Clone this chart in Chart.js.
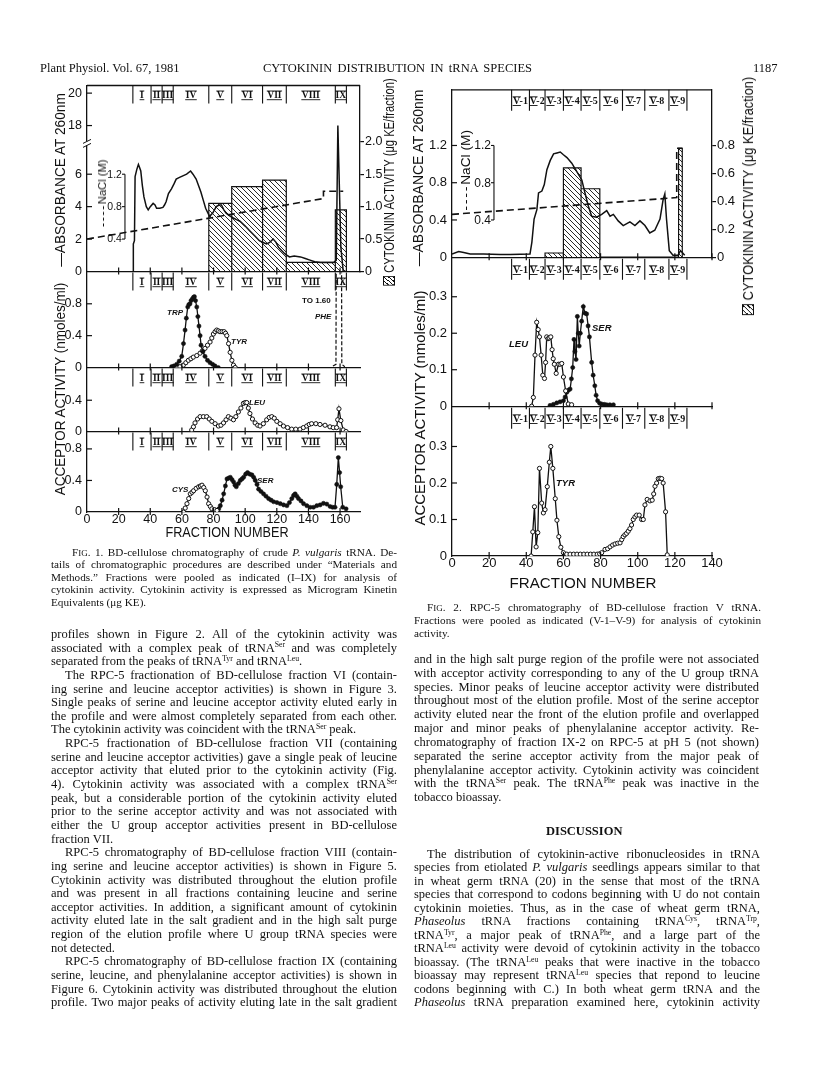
<!DOCTYPE html>
<html>
<head>
<meta charset="utf-8">
<title>Cytokinin distribution in tRNA species</title>
<script src="https://cdn.jsdelivr.net/npm/chart.js@4.4.1/dist/chart.umd.min.js"></script>
<style>
  body { margin: 0; background: #fff; }
  #page { position: relative; width: 816px; height: 1073px; overflow: hidden; color: #111;
          font-family: "Liberation Serif", "Times New Roman", serif; }
  #page canvas { position: absolute; }
  .line { position: absolute; white-space: nowrap; }
  .rot { position: absolute; white-space: nowrap; font-family: "Liberation Sans", Arial, sans-serif; color: #111; }
  sup { font-size: 0.62em; line-height: 0; vertical-align: 0; position: relative; top: -0.55em; }
  .sc { font-size: 0.8em; }
  .box { display: inline-block; width: 10px; height: 10px; border: 1.3px solid #111; margin-right: 4px; vertical-align: -1px;
         background: repeating-linear-gradient(-45deg, #111 0 1px, #fff 1px 3.5px); }
  .dash { display: inline-block; width: 20px; border-top: 1.6px dashed #111; vertical-align: middle; margin-right: 2px; }
  .lab { position: absolute; white-space: nowrap; font: italic bold 8px "Liberation Sans", Arial, sans-serif; color: #111; }
</style>
</head>
<body>
<div id="page"></div>
<script>
// ---------- Fig. 1 : BD-cellulose, crude P. vulgaris tRNA ----------
const fig1Zones = ['I', 'II', 'III', 'IV', 'V', 'VI', 'VII', 'VIII', 'IX'];
const fig1ZoneEdges = [29, 40.5, 47.5, 54.5, 77, 91.5, 111, 126, 157, 164];
const fig1KEStart = [77, 91.5, 111, 126, 157];
const fig1KEEnd = [91.5, 111, 126, 157, 164];
const fig1KE = [1.05, 1.31, 1.41, 0.14, 0.95];
const fig1AbsTicks = [0, 2, 4, 6, 18, 20];
const fig1AbsFrac = [29.3, 29.3, 30, 30.4, 31.5, 32.5, 33.3, 34, 35, 36, 37.5, 38.7, 40, 41.8, 43, 44, 46, 48, 49, 50, 51.5, 53.4, 55, 56.4, 58.5,
  60.6, 63, 65.5, 67, 69, 70.5, 72, 73.5, 75, 77.5, 79.5, 81.7, 83.5, 85, 86.5, 88, 90, 92.5, 94.5, 96.7, 100, 103, 106, 109, 111,
  113.5, 115.5, 117.7, 119.5, 121, 123, 125, 126.5, 128, 131, 135, 138, 141, 144, 147.5, 152, 156, 157.6, 158.6, 160.5, 162, 164];
const fig1Abs = [0, 1.7, 1.9, 5.85, 6.3, 6.6, 6.4, 6.2, 5.3, 4.6, 4.0, 3.8, 4.0, 4.2, 4.1, 3.9, 3.9, 3.95, 4.1, 4.3, 4.8, 5.1, 5.4, 5.7, 5.8,
  5.9, 6.0, 6.2, 6.0, 5.7, 5.3, 4.9, 4.4, 3.9, 3.4, 3.6, 4.0, 4.1, 4.1, 3.8, 3.6, 3.45, 3.3, 3.2, 3.1, 2.8, 2.5, 2.2, 1.9, 1.8,
  1.7, 1.8, 2.0, 1.8, 1.5, 1.3, 1.1, 1.0, 0.9, 0.95, 0.9, 0.8, 0.7, 0.6, 0.55, 0.55, 0.55, 0.7, 18, 1.5, 0, 0];
const fig1NaclFrac = [0, 149.5, 149.5, 162];
const fig1Nacl = [0.40, 0.90, 0.99, 0.99];
const fig1TrpFrac = [53.5, 55, 56.7, 58.3, 59.9, 61, 62, 62.8, 63.7, 64.4, 65.1, 65.8, 66.6, 67.3, 67.9, 68.6, 69.4, 70.1, 70.8, 71.5,
  72.1, 73.3, 74.6, 76.2, 77.8, 79.4, 80.9, 83];
const fig1Trp = [0.01, 0.02, 0.04, 0.08, 0.14, 0.30, 0.47, 0.62, 0.76, 0.79, 0.80, 0.84, 0.86, 0.88, 0.89, 0.84, 0.76, 0.64, 0.52, 0.40,
  0.28, 0.20, 0.14, 0.09, 0.06, 0.04, 0.02, 0];
const fig1TyrFrac = [56.7, 58.8, 60.9, 62.5, 64.1, 65.7, 67.2, 69.4, 71.5, 73, 74.6, 76.2, 77.8, 78.9, 79.9, 81, 82, 83, 84.1, 85.4,
  86.7, 87.6, 88.4, 89.5, 90.5, 91.6, 92.6, 93.7];
const fig1Tyr = [0, 0.01, 0.03, 0.06, 0.09, 0.11, 0.13, 0.15, 0.18, 0.21, 0.24, 0.28, 0.32, 0.37, 0.42, 0.45, 0.47, 0.46, 0.45, 0.45,
  0.45, 0.43, 0.40, 0.30, 0.19, 0.09, 0.03, 0];
const fig1PheFrac = [155.5, 157.4, 157.6, 160.9, 161.1, 163];
const fig1Phe = [0.02, 0.04, 1.60, 1.60, 0.04, 0.01];
const fig1LeuFrac = [66.2, 67.3, 68.3, 69.9, 71.5, 73.6, 75.7, 77.3, 78.9, 81, 83.1, 84.7, 86.3, 87.9, 89.4, 91, 92.6, 94.1, 95.7, 97.3,
  98.9, 100, 101, 102, 103, 104.6, 106.3, 107.9, 109.4, 111.5, 113.6, 115.2, 116.8, 118.4, 120, 122.1, 124.2, 126.8, 129.4, 132,
  134.7, 136.8, 138.9, 140.5, 142, 144.7, 147.3, 150.5, 153.6, 155.7, 157.8, 158.5, 159.3, 160.5, 162, 163.8];
const fig1Leu = [0.02, 0.06, 0.11, 0.16, 0.19, 0.19, 0.19, 0.16, 0.13, 0.10, 0.07, 0.08, 0.11, 0.15, 0.19, 0.17, 0.15, 0.19, 0.25, 0.30,
  0.36, 0.37, 0.37, 0.30, 0.23, 0.16, 0.11, 0.08, 0.07, 0.10, 0.15, 0.18, 0.19, 0.17, 0.13, 0.10, 0.07, 0.05, 0.03, 0.03,
  0.03, 0.05, 0.07, 0.09, 0.10, 0.10, 0.09, 0.08, 0.06, 0.05, 0.05, 0.15, 0.29, 0.14, 0.02, 0];
const fig1CysFrac = [61, 62.1, 63.2, 64.3, 65.3, 66.4, 67.4, 69, 70.6, 71.7, 72.7, 73.8, 74.8, 75.9, 76.9, 78, 79, 80.6, 82.2];
const fig1Cys = [0, 0.05, 0.105, 0.17, 0.23, 0.25, 0.27, 0.30, 0.32, 0.33, 0.34, 0.31, 0.27, 0.19, 0.105, 0.07, 0.04, 0.03, 0.02];
const fig1SerFrac = [82.2, 83.3, 84.3, 85.4, 86.4, 87.5, 88.5, 89.6, 90.6, 91.7, 92.7, 93.6, 94.4, 95.7, 96.9, 98, 99, 100.3, 101.5, 102.9,
  104.3, 105.4, 106.4, 107.5, 108.5, 110, 111.6, 113.2, 114.8, 116.4, 118, 120.1, 122.2, 124.3, 126.4, 128, 129.5, 130.6, 131.6, 132.7,
  133.7, 135.3, 136.9, 139, 141.1, 143.2, 145.3, 147.4, 149.5, 151.6, 153.7, 155.3, 156.8, 157.9, 158.9, 159.7, 160.4, 161.7, 163.8];
const fig1Ser = [0.02, 0.04, 0.08, 0.15, 0.23, 0.33, 0.42, 0.43, 0.44, 0.41, 0.38, 0.34, 0.32, 0.36, 0.40, 0.42, 0.44, 0.48, 0.50, 0.48,
  0.47, 0.44, 0.40, 0.35, 0.29, 0.26, 0.23, 0.20, 0.17, 0.15, 0.13, 0.12, 0.105, 0.09, 0.08, 0.12, 0.17, 0.21, 0.23, 0.20,
  0.17, 0.14, 0.105, 0.08, 0.06, 0.06, 0.08, 0.09, 0.11, 0.10, 0.07, 0.06, 0.06, 0.35, 0.69, 0.50, 0.32, 0.06, 0.04];

// ---------- Fig. 2 : RPC-5, BD-cellulose fraction V ----------
const fig2Zones = ['V-1', 'V-2', 'V-3', 'V-4', 'V-5', 'V-6', 'V-7', 'V-8', 'V-9'];
const fig2ZoneEdges = [32.1, 41.7, 50.1, 60, 69.5, 79.6, 91.8, 103.8, 116.8, 126.5];
const fig2KEStart = [50.1, 60, 69.5, 122];
const fig2KEEnd = [60, 69.5, 79.6, 124];
const fig2KE = [0.03, 0.64, 0.49, 0.78];
const fig2AbsFrac = [0, 3.6, 6.3, 9.8, 17, 26, 31.4, 42, 43, 44.2, 45.7, 46.6, 48.4, 49.7, 51.1, 52.9, 54.7, 56.5, 58.3, 60, 61.9, 64.5,
  67.2, 69.9, 71.6, 73.4, 75.2, 77.9, 80.6, 83.3, 85.1, 86.9, 89.5, 92.2, 95.8, 98.5, 101.2, 103.9, 106.5, 109.2, 112, 113.7, 114.6,
  115.5, 117, 119, 121.7, 123, 124, 125.3];
const fig2Abs = [0.035, 0.06, 0.05, 0.035, 0.035, 0.03, 0.03, 0.035, 0.16, 0.41, 0.51, 0.69, 0.71, 0.78, 0.94, 1.04, 1.11, 1.12, 1.13, 1.10,
  1.07, 1.01, 0.92, 0.83, 0.69, 0.55, 0.44, 0.43, 0.46, 0.50, 0.44, 0.46, 0.39, 0.34, 0.38, 0.34, 0.39, 0.34, 0.26, 0.29, 0.41, 0.62,
  0.68, 0.41, 0.07, 0.02, 0.02, 0.07, 0.05, 0.02];
const fig2NaclFrac = [0, 121, 121, 124];
const fig2Nacl = [0.46, 0.64, 1.17, 1.17];
const fig2LeuFrac = [42.9, 43.8, 44.7, 45.6, 46.4, 47.1, 48, 48.9, 49.8, 50.4, 51, 51.7, 52.3, 53.2, 53.9, 54.5, 55.1, 56.1, 57.3, 58.2,
  59.1, 60, 61.2, 62.6, 64.4];
const fig2Leu = [0, 0.024, 0.14, 0.23, 0.21, 0.19, 0.14, 0.085, 0.076, 0.12, 0.19, 0.185, 0.187, 0.19, 0.155, 0.13, 0.115, 0.09, 0.115,
  0.115, 0.117, 0.08, 0.042, 0.006, 0.004];
const fig2SerFrac = [52.8, 54.6, 56.4, 58.2, 60, 60.9, 61.8, 62.7, 63.6, 64.3, 65, 65.7, 66.2, 66.8, 67.5, 68, 68.5, 69.1, 69.8, 70.7,
  71.6, 72.5, 73.3, 74, 75.2, 76, 76.9, 77.6, 78.4, 79.5, 80.6, 82, 83.3, 85, 86.9];
const fig2Ser = [0.002, 0.005, 0.009, 0.012, 0.015, 0.025, 0.038, 0.044, 0.047, 0.075, 0.106, 0.183, 0.15, 0.128, 0.246, 0.20, 0.165,
  0.20, 0.233, 0.273, 0.255, 0.253, 0.22, 0.19, 0.12, 0.085, 0.056, 0.03, 0.015, 0.008, 0.006, 0.005, 0.004, 0.004, 0.004];
const fig2TyrFrac = [42.6, 43.5, 44.4, 45.3, 46.2, 47.1, 48.3, 49.2, 50.1, 51.3, 52.4, 53.2, 54.3, 55.6, 56.5, 57.5, 58.6, 60, 61.8,
  63.6, 65.5, 67.3, 69.1, 71, 72.8, 74.6, 76.4, 78.2, 79.5, 80.6, 82.4, 83.8, 85.1, 86.5, 87.8, 89.2, 90.5, 91.4, 92.2, 93.1, 94,
  94.9, 95.8, 96.7, 97.6, 98.5, 99.4, 100.8, 102.1, 103, 103.9, 105.1, 106.6, 107.8, 108.6, 109.3, 110.2, 111.1, 112, 112.9, 113.7,
  115, 115.9];
const fig2Tyr = [0, 0.066, 0.135, 0.025, 0.064, 0.24, 0.145, 0.118, 0.127, 0.19, 0.257, 0.30, 0.24, 0.157, 0.098, 0.053, 0.024, 0.009,
  0.005, 0.005, 0.005, 0.005, 0.005, 0.005, 0.005, 0.005, 0.005, 0.005, 0.006, 0.009, 0.018, 0.02, 0.025, 0.03, 0.033, 0.035, 0.036,
  0.045, 0.053, 0.058, 0.062, 0.068, 0.075, 0.085, 0.10, 0.107, 0.112, 0.112, 0.10, 0.10, 0.14, 0.155, 0.151, 0.153, 0.17, 0.191,
  0.20, 0.212, 0.213, 0.212, 0.20, 0.121, 0.003];

// ---------- helpers ----------
const INK = '#111';
const page = document.getElementById('page');
Chart.defaults.font.family = '"Liberation Sans", Arial, sans-serif';
Chart.defaults.color = INK;
Chart.defaults.animation = false;

const brk = v => (v >= 16 ? v - 9 : v);   // fig. 1 broken absorbance axis (18 and 20 sit above 6)
const pts = (xs, ys, f) => xs.map((x, i) => ({ x: x, y: f ? f(ys[i]) : ys[i] }));
function steps(s, e, v) {
  const out = [];
  s.forEach((x, i) => { out.push({ x: x, y: 0 }, { x: x, y: v[i] }, { x: e[i], y: v[i] }, { x: e[i], y: 0 }); });
  return out;
}
function hatch() {
  const c = document.createElement('canvas'); c.width = 5; c.height = 5;
  const g = c.getContext('2d'); g.strokeStyle = INK; g.lineWidth = 0.9;
  g.beginPath(); g.moveTo(0, 0); g.lineTo(5, 5); g.moveTo(-1, 4); g.lineTo(1, 6); g.moveTo(4, -1); g.lineTo(6, 1); g.stroke();
  return g.createPattern(c, 'repeat');
}
const fmt = v => (v === 0 ? '0' : v.toFixed(1));

function trace(data, kind, extra) {
  const d = { data: data, showLine: true, borderColor: INK, borderWidth: 1.3, pointRadius: 0, order: 1 };
  if (kind === 'open') Object.assign(d, { pointRadius: 2.1, pointBackgroundColor: '#fff', pointBorderColor: INK, pointBorderWidth: 1 });
  if (kind === 'dot') Object.assign(d, { pointRadius: 2.1, pointBackgroundColor: INK, pointBorderColor: INK, pointBorderWidth: 0.5 });
  return Object.assign(d, extra || {});
}

function deco(g, p) {
  return {
    id: 'deco',
    afterDraw(chart) {
      const ctx = chart.ctx, a = chart.chartArea, xs = chart.scales.x, ys = chart.scales.y;
      const ln = (x1, y1, x2, y2) => { ctx.beginPath(); ctx.moveTo(x1, y1); ctx.lineTo(x2, y2); ctx.stroke(); };
      ctx.save();
      ctx.strokeStyle = INK; ctx.fillStyle = INK; ctx.lineWidth = 1.2;
      if (p.top) { ctx.lineWidth = 1.3; ln(a.left, a.top, a.right, a.top); ctx.lineWidth = 1.2; }
      ys.ticks.forEach(t => { const y = ys.getPixelForValue(t.value); if (y > a.top + 1 && y < a.bottom - 1) ln(a.left, y, a.left + 5, y); });
      g.xticks.forEach(v => { if (v > 0) { const x = xs.getPixelForValue(v); ln(x, a.bottom - 4, x, a.bottom + 3); } });
      if (p.zones) {
        const h = g.zoneH;
        ctx.lineWidth = 1.1;
        p.edges.forEach(v => { const x = xs.getPixelForValue(v); ln(x, a.top, x, a.top + h); });
        ctx.font = 'bold ' + g.zoneFont + 'px "Liberation Serif", serif';
        ctx.textAlign = 'center'; ctx.textBaseline = 'middle';
        p.zones.forEach((s, i) => {
          const xm = (xs.getPixelForValue(p.edges[i]) + xs.getPixelForValue(p.edges[i + 1])) / 2;
          const ym = a.top + h / 2 + 1;
          ctx.fillText(s, xm, ym);
          const wAll = ctx.measureText(s).width, wr = ctx.measureText(s.split('-')[0]).width, xl = xm - wAll / 2;
          ctx.lineWidth = 0.9;
          ln(xl - 0.5, ym - 4.5, xl + wr + 0.5, ym - 4.5); ln(xl - 0.5, ym + 4.2, xl + wr + 0.5, ym + 4.2);
        });
      }
      if (p.brk != null) {
        const y = ys.getPixelForValue(p.brk);
        ctx.fillStyle = '#fff'; ctx.fillRect(a.left - 3, y - 2, 6, 4); ctx.fillStyle = INK;
        ctx.lineWidth = 1; ln(a.left - 4, y, a.left + 4, y - 4); ln(a.left - 4, y + 4, a.left + 4, y);
      }
      if (p.na) {
        const sc = chart.scales.yNa, x = xs.getPixelForValue(p.na.at);
        const tk = p.na.ticks;
        ctx.lineWidth = 1.1;
        ln(x, sc.getPixelForValue(tk[0]), x, sc.getPixelForValue(tk[tk.length - 1]));
        ctx.font = p.na.font + 'px "Liberation Sans", Arial, sans-serif';
        ctx.textAlign = 'right'; ctx.textBaseline = 'middle';
        tk.forEach(v => { const y = sc.getPixelForValue(v); ln(x - 3, y, x, y); ctx.fillText(v.toFixed(1), x - 3, y + 0.5); });
      }
      ctx.restore();
    }
  };
}

function panel(g, p) {
  const L = 50, R = 38, T = 12, B = p.xlabels ? 34 : 12;
  const c = document.createElement('canvas');
  c.width = g.x1 - g.x0 + L + R; c.height = p.y1 - p.y0 + T + B;
  c.style.left = (g.x0 - L) + 'px'; c.style.top = (p.y0 - T) + 'px';
  page.appendChild(c);
  const tickFont = { size: g.tick };
  const scales = {
    x: {
      type: 'linear', min: 0, max: g.xmax,
      afterFit: s => { s.height = B; },
      afterBuildTicks: s => { s.ticks = g.xticks.map(v => ({ value: v })); },
      grid: { display: false, drawTicks: false }, border: { display: true, color: INK, width: 1.3 },
      ticks: { display: !!p.xlabels, padding: 0, maxRotation: 0, autoSkip: false, font: tickFont, color: INK }
    },
    y: {
      type: 'linear', min: 0, max: p.ymax,
      afterFit: s => { s.width = L; },
      afterBuildTicks: s => { s.ticks = p.yticks.map(v => ({ value: p.ymap ? p.ymap(v) : v })); },
      grid: { display: false, drawTicks: false }, border: { display: true, color: INK, width: 1.3 },
      ticks: { padding: 5, autoSkip: false, font: tickFont, color: INK,
               callback: (v, i) => (p.ylabels ? p.ylabels[i] : fmt(v)) }
    }
  };
  if (p.ke) {
    scales.yKE = {
      type: 'linear', position: 'right', min: 0, max: p.ke.max,
      afterFit: s => { s.width = R; },
      afterBuildTicks: s => { s.ticks = p.ke.ticks.map(v => ({ value: v })); },
      grid: { display: true, drawOnChartArea: false, drawTicks: true, tickLength: 4, color: INK, lineWidth: 1.2 },
      border: { display: true, color: INK, width: 1.3 },
      ticks: { padding: 1, autoSkip: false, font: tickFont, color: INK, callback: v => fmt(v) }
    };
  }
  if (p.naMax) scales.yNa = { type: 'linear', display: false, min: 0, max: p.naMax };
  return new Chart(c, {
    type: 'scatter',
    data: { datasets: p.datasets },
    options: {
      responsive: false, devicePixelRatio: 1, animation: false, events: [],
      layout: { padding: { top: T, right: p.ke ? 0 : R, left: 0, bottom: 0 } },
      plugins: { legend: { display: false }, tooltip: { enabled: false } },
      scales: scales
    },
    plugins: [deco(g, p)]
  });
}

function placeText(html, cx, cy, len, size, rotate) {
  const d = document.createElement('div');
  d.className = 'rot'; d.innerHTML = html; d.style.fontSize = size + 'px';
  d.style.left = cx + 'px'; d.style.top = cy + 'px';
  page.appendChild(d);
  const s = len / d.offsetWidth;
  d.style.transform = 'translate(-50%,-50%)' + (rotate ? ' rotate(-90deg)' : '') + ' scaleX(' + s + ')';
}
const rotText = (html, cx, cy, len, size) => placeText(html, cx, cy, len, size, true);
const flatText = (html, cx, cy, len, size) => placeText(html, cx, cy, len, size, false);
function label(txt, x, y, size, upright) {
  const d = document.createElement('div');
  d.className = 'lab'; d.textContent = txt;
  d.style.left = x + 'px'; d.style.top = y + 'px';
  if (size) d.style.fontSize = size + 'px';
  if (upright) d.style.fontStyle = 'normal';
  page.appendChild(d);
}

// ---------- Fig. 1 ----------
const hat = hatch();
const G1 = { x0: 87, x1: 360, xmax: 172.6, xticks: [0, 20, 40, 60, 80, 100, 120, 140, 160], tick: 12.5, zoneH: 18, zoneFont: 9.5 };
const ymax1 = 11.47;
panel(G1, {
  y0: 85, y1: 272, ymax: ymax1, yticks: fig1AbsTicks, ymap: brk, ylabels: fig1AbsTicks.map(String),
  top: true, zones: fig1Zones, edges: fig1ZoneEdges, brk: 7.9,
  ke: { max: ymax1 / 4, ticks: [0, 0.5, 1.0, 1.5, 2.0] }, naMax: ymax1 / 5,
  na: { at: 24, ticks: [0.4, 0.8, 1.2], font: 10.5 },
  datasets: [
    trace(pts(fig1AbsFrac, fig1Abs, brk), 'line', { borderWidth: 1.5 }),
    trace(pts(fig1NaclFrac, fig1Nacl), 'line', { yAxisID: 'yNa', borderDash: [7, 4], borderWidth: 1.6, order: 2 }),
    trace(steps(fig1KEStart, fig1KEEnd, fig1KE), 'line', { yAxisID: 'yKE', fill: 'origin', backgroundColor: hat, borderWidth: 1.2, order: 3 })
  ]
});
panel(G1, {
  y0: 272, y1: 368, ymax: 1.193, yticks: [0, 0.4, 0.8], zones: fig1Zones, edges: fig1ZoneEdges,
  datasets: [
    trace(pts(fig1TrpFrac, fig1Trp), 'dot'),
    trace(pts(fig1TyrFrac, fig1Tyr), 'open'),
    trace(pts(fig1PheFrac, fig1Phe), 'line', { borderDash: [4, 2], borderWidth: 1.2 })
  ]
});
panel(G1, {
  y0: 368, y1: 432, ymax: 0.806, yticks: [0, 0.4], zones: fig1Zones, edges: fig1ZoneEdges,
  datasets: [trace(pts(fig1LeuFrac, fig1Leu), 'open')]
});
panel(G1, {
  y0: 432, y1: 512, ymax: 1.008, yticks: [0, 0.4, 0.8], zones: fig1Zones, edges: fig1ZoneEdges, xlabels: true,
  datasets: [trace(pts(fig1CysFrac, fig1Cys), 'open'), trace(pts(fig1SerFrac, fig1Ser), 'dot')]
});

// ---------- Fig. 2 ----------
const G2 = { x0: 452, x1: 712, xmax: 140, xticks: [0, 20, 40, 60, 80, 100, 120, 140], tick: 13, zoneH: 21, zoneFont: 10 };
const ymax2 = 1.798;
panel(G2, {
  y0: 89, y1: 258, ymax: ymax2, yticks: [0, 0.4, 0.8, 1.2],
  top: true, zones: fig2Zones, edges: fig2ZoneEdges,
  ke: { max: ymax2 * 2 / 3, ticks: [0, 0.2, 0.4, 0.6, 0.8] }, naMax: ymax2,
  na: { at: 22.6, ticks: [0.4, 0.8, 1.2], font: 12 },
  datasets: [
    trace(pts(fig2AbsFrac, fig2Abs), 'line', { borderWidth: 1.5 }),
    trace(pts(fig2NaclFrac, fig2Nacl), 'line', { yAxisID: 'yNa', borderDash: [7, 4], borderWidth: 1.6, order: 2 }),
    trace(steps(fig2KEStart, fig2KEEnd, fig2KE), 'line', { yAxisID: 'yKE', fill: 'origin', backgroundColor: hat, borderWidth: 1.2, order: 3 })
  ]
});
panel(G2, {
  y0: 258, y1: 407, ymax: 0.404, yticks: [0, 0.1, 0.2, 0.3], zones: fig2Zones, edges: fig2ZoneEdges,
  datasets: [trace(pts(fig2LeuFrac, fig2Leu), 'open'), trace(pts(fig2SerFrac, fig2Ser), 'dot')]
});
panel(G2, {
  y0: 407, y1: 556, ymax: 0.406, yticks: [0, 0.1, 0.2, 0.3], zones: fig2Zones, edges: fig2ZoneEdges, xlabels: true,
  datasets: [trace(pts(fig2TyrFrac, fig2Tyr), 'open')]
});

// ---------- axis titles and curve labels ----------
rotText('&mdash;ABSORBANCE AT 260nm', 60, 180, 174, 14);
rotText('ACCEPTOR ACTIVITY (nmoles/ml)', 60, 389, 212, 14);
rotText('<span class="dash"></span>NaCl (M)', 102, 193, 67, 11);
rotText('<span class="box"></span>CYTOKININ ACTIVITY (&mu;g KE/fraction)', 389, 182, 207, 14);
flatText('FRACTION NUMBER', 227, 532, 123, 14);
rotText('&mdash;ABSORBANCE AT 260nm', 418, 178, 177, 14);
rotText('ACCEPTOR ACTIVITY (nmoles/ml)', 419, 408, 235, 15);
rotText('<span class="dash"></span>NaCl (M)', 466, 170, 80, 12);
rotText('<span class="box"></span>CYTOKININ ACTIVITY (&mu;g KE/fraction)', 748, 196, 238, 14);
flatText('FRACTION NUMBER', 583, 582, 147, 15);

label('TRP', 167, 308); label('TYR', 231, 337); label('TO 1.60', 302, 296, 8, true); label('PHE', 315, 312);
label('LEU', 249, 398); label('CYS', 172, 485); label('SER', 257, 476);
label('LEU', 509, 338, 9.5); label('SER', 592, 322, 9.5); label('TYR', 556, 477, 9.5);

// ---------- page text ----------
function block(lines, x, y0, lh, width, size, ind) {
  lines.forEach((raw, i) => {
    let t = raw, indent = 0, just = true;
    if (t.startsWith('>')) { indent = ind; t = t.slice(1); }
    if (t.endsWith('|')) { just = false; t = t.slice(0, -1); }
    const d = document.createElement('div');
    d.className = 'line'; d.innerHTML = t;
    d.style.left = (x + indent) + 'px'; d.style.top = (y0 + i * lh) + 'px';
    d.style.fontSize = size + 'px'; d.style.lineHeight = lh + 'px';
    page.appendChild(d);
    const w = d.getBoundingClientRect().width, target = width - indent;
    if (just || w > target) {
      const gaps = (d.textContent.match(/ /g) || []).length;
      if (w < target && gaps) d.style.wordSpacing = ((target - w) / gaps) + 'px';
      else if (w > target) d.style.letterSpacing = ((target - w) / d.textContent.length) + 'px';
    }
  });
}

block(['Plant Physiol. Vol. 67, 1981|'], 40, 61, 14, 150, 12.5, 0);
block(['CYTOKININ DISTRIBUTION IN tRNA SPECIES'], 263, 61, 14, 269, 12.5, 0);
block(['1187|'], 753, 61, 14, 30, 12.5, 0);

block([
  '>F<span class="sc">IG</span>. 1. BD-cellulose chromatography of crude <i>P. vulgaris</i> tRNA. De-',
  'tails of chromatographic procedures are described under \u201cMaterials and',
  'Methods.\u201d Fractions were pooled as indicated (I\u2013IX) for analysis of',
  'cytokinin activity. Cytokinin activity is expressed as Microgram Kinetin',
  'Equivalents (\u03bcg KE).|'
], 51, 545.5, 12.6, 346, 11.2, 21);

block([
  'profiles shown in Figure 2. All of the cytokinin activity was',
  'associated with a complex peak of tRNA<sup>Ser</sup> and was completely',
  'separated from the peaks of tRNA<sup>Tyr</sup> and tRNA<sup>Leu</sup>.|',
  '>The RPC-5 fractionation of BD-cellulose fraction VI (contain-',
  'ing serine and leucine acceptor activities) is shown in Figure 3.',
  'Single peaks of serine and leucine acceptor activity eluted early in',
  'the profile and were almost completely separated from each other.',
  'The cytokinin activity was coincident with the tRNA<sup>Ser</sup> peak.|',
  '>RPC-5 fractionation of BD-cellulose fraction VII (containing',
  'serine and leucine acceptor activities) gave a single peak of leucine',
  'acceptor activity that eluted prior to the cytokinin activity (Fig.',
  '4). Cytokinin activity was associated with a complex tRNA<sup>Ser</sup>',
  'peak, but a considerable portion of the cytokinin activity eluted',
  'prior to the serine acceptor activity and was not associated with',
  'either the U group acceptor activities present in BD-cellulose',
  'fraction VII.|',
  '>RPC-5 chromatography of BD-cellulose fraction VIII (contain-',
  'ing serine and leucine acceptor activities) is shown in Figure 5.',
  'Cytokinin activity was distributed throughout the elution profile',
  'and was present in all fractions containing leucine and serine',
  'acceptor activities. In addition, a significant amount of cytokinin',
  'activity eluted late in the salt gradient and in the high salt purge',
  'region of the elution profile where U group tRNA species were',
  'not detected.|',
  '>RPC-5 chromatography of BD-cellulose fraction IX (containing',
  'serine, leucine, and phenylalanine acceptor activities) is shown in',
  'Figure 6. Cytokinin activity was distributed throughout the elution',
  'profile. Two major peaks of activity eluting late in the salt gradient'
], 51, 628, 13.64, 346, 12.5, 14);

block([
  '>F<span class="sc">IG</span>. 2. RPC-5 chromatography of BD-cellulose fraction V tRNA.',
  'Fractions were pooled as indicated (V-1\u2013V-9) for analysis of cytokinin',
  'activity.|'
], 414, 601, 12.9, 347, 11.2, 13);

block([
  'and in the high salt purge region of the profile were not associated',
  'with acceptor activity corresponding to any of the U group tRNA',
  'species. Minor peaks of leucine acceptor activity were distributed',
  'throughout most of the elution profile. Most of the serine acceptor',
  'activity eluted near the front of the elution profile and overlapped',
  'major and minor peaks of phenylalanine acceptor activity. Re-',
  'chromatography of fraction IX-2 on RPC-5 at pH 5 (not shown)',
  'separated the serine acceptor activity from the major peak of',
  'phenylalanine acceptor activity. Cytokinin activity was coincident',
  'with the tRNA<sup>Ser</sup> peak. The tRNA<sup>Phe</sup> peak was inactive in the',
  'tobacco bioassay.|'
], 414, 653, 13.83, 345, 12.5, 13);

block(['<b>DISCUSSION</b>|'], 546, 824, 14, 90, 12.5, 0);

block([
  '>The distribution of cytokinin-active ribonucleosides in tRNA',
  'species from etiolated <i>P. vulgaris</i> seedlings appears similar to that',
  'in wheat germ tRNA (20) in the sense that most of the tRNA',
  'species that correspond to codons beginning with U do not contain',
  'cytokinin moieties. Thus, as in the case of wheat germ tRNA,',
  '<i>Phaseolus</i> tRNA fractions containing tRNA<sup>Cys</sup>, tRNA<sup>Trp</sup>,',
  'tRNA<sup>Tyr</sup>, a major peak of tRNA<sup>Phe</sup>, and a large part of the',
  'tRNA<sup>Leu</sup> activity were devoid of cytokinin activity in the tobacco',
  'bioassay. (The tRNA<sup>Leu</sup> peaks that were inactive in the tobacco',
  'bioassay may represent tRNA<sup>Leu</sup> species that repond to leucine',
  'codons beginning with C.) In both wheat germ tRNA and the',
  '<i>Phaseolus</i> tRNA preparation examined here, cytokinin activity'
], 414, 848, 13.48, 346, 12.5, 13);
</script>
</body>
</html>
